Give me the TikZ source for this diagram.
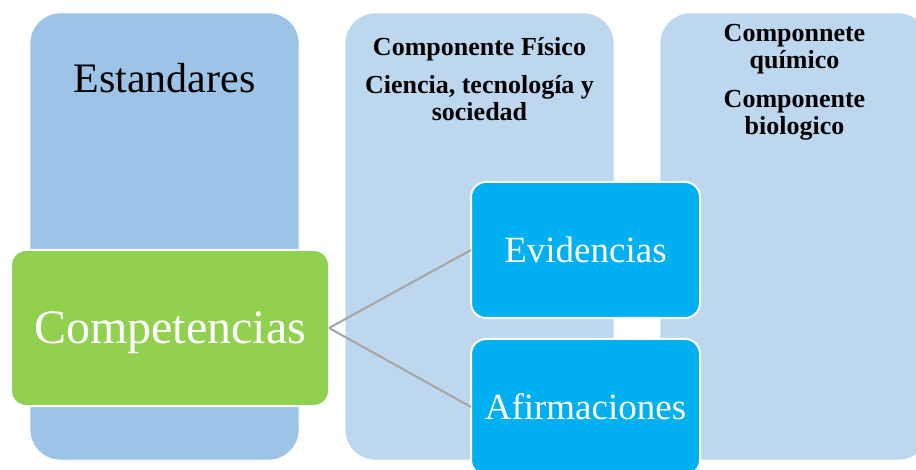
\documentclass[tikz,border=0pt]{standalone}
\usepackage{fontspec}
\setmainfont{Liberation Serif}
\usetikzlibrary{positioning}
\definecolor{stdblue}{RGB}{157,195,230}
\definecolor{compblue}{RGB}{189,215,238}
\definecolor{compgreen}{RGB}{146,208,80}
\definecolor{cyanbox}{RGB}{0,176,240}
\definecolor{linkgray}{RGB}{165,165,165}
\tikzset{colbox/.style={rectangle,rounded corners=30pt,draw=white,line width=0.75pt,outer sep=0pt,inner sep=0pt,minimum width=269pt,minimum height=447pt},
	 keybox/.style={rectangle,rounded corners=15pt,draw=white,line width=2pt,outer sep=0pt,inner sep=0pt,text=white},
	 head/.style={font=\fontsize{26}{27}\selectfont\bfseries,align=center,inner sep=0pt,anchor=north},
	 link/.style={draw=linkgray,line width=2pt}
	 }
\begin{document}
\begin{tikzpicture}[x=1pt,y=-1pt] % estandares, componentes and competencias
	\useasboundingbox (0,0) rectangle (916,470);
	\node[colbox,fill=stdblue] (c1) at (164.5,236.5) {};
	\node[colbox,fill=compblue] (c2) [right=46pt of c1] {};
	\node[colbox,fill=compblue] (c3) [right=46pt of c2] {};
	\node[font=\fontsize{42}{50}\selectfont,anchor=base,inner sep=0pt] (estlbl) at ([yshift=-80pt]c1.north) {Estandares};
	\node[head] (fislbl) at ([yshift=-24pt]c2.north) {Componente Físico\\[11pt]Ciencia, tecnología y\\sociedad};
	\node[head] (quilbl) at ([yshift=-11pt]c3.north) {Componnete\\químico\\[12pt]Componente\\biologico};
	\node[keybox,fill=compgreen,minimum width=318pt,minimum height=156pt,text depth=0pt,font=\fontsize{48}{56}\selectfont] (comp) at (170,328) {Competencias};
	\node[keybox,fill=cyanbox,minimum width=229pt,minimum height=136pt,font=\fontsize{37}{44}\selectfont] (evid) at (585.5,250) {Evidencias};
	\node[keybox,fill=cyanbox,minimum width=229pt,minimum height=136pt,font=\fontsize{37}{44}\selectfont] (afirm) [below=21pt of evid] {Afirmaciones};
	\draw[link] (comp.east) -- (evid.west);
	\draw[link] (comp.east) -- (afirm.west);
\end{tikzpicture}
\end{document}
